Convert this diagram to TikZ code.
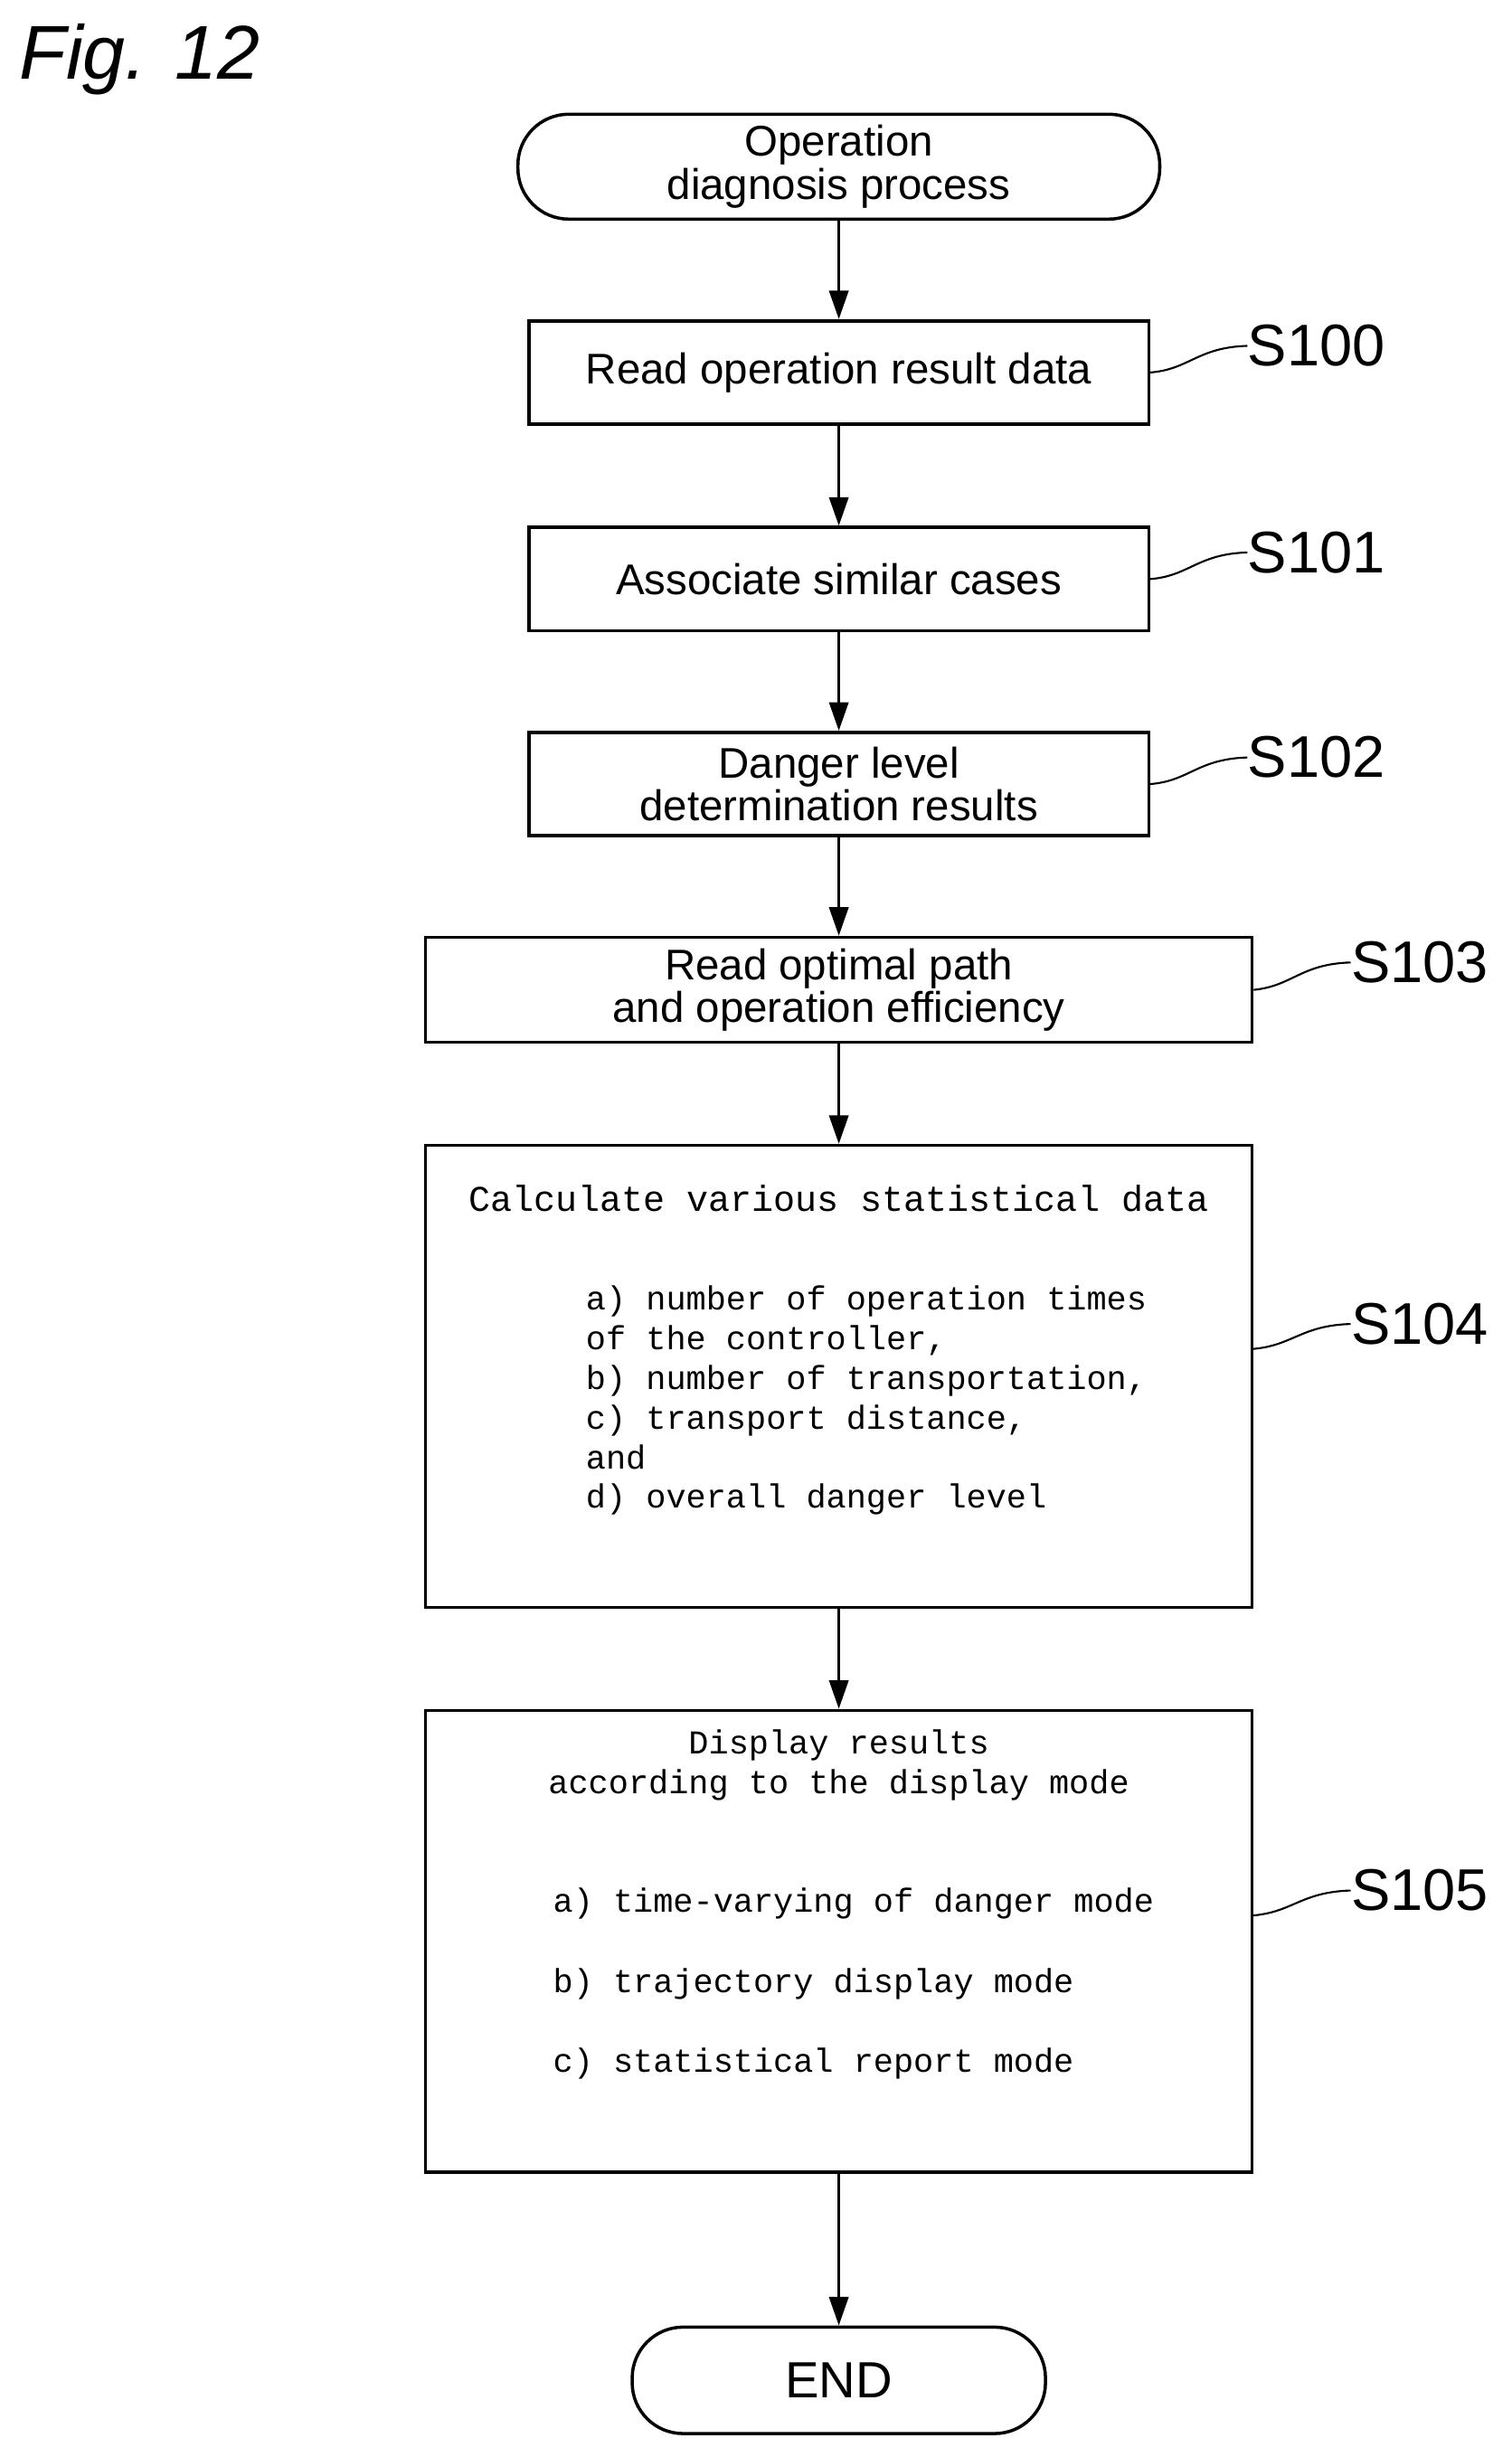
\documentclass[tikz,border=0pt]{standalone}
\usepackage{fontspec}
\usetikzlibrary{arrows.meta}
\setmainfont{Liberation Sans}
\setmonofont{Liberation Mono}
\begin{document}
\begin{tikzpicture}[x=0.01731cm,y=-0.01731cm,
  box/.style={draw,line width=1pt,inner sep=0pt,font=\fontsize{13.5}{13.5}\selectfont,align=center},
  arr/.style={line width=1pt,-{Stealth[length=9pt,width=6pt,inset=0pt]}},
  lab/.style={font=\fontsize{18.5}{20}\selectfont,anchor=west,inner sep=0pt},
  lk/.style={line width=0.6pt},
  mono/.style={font=\ttfamily\fontsize{10.5}{12.5}\selectfont,align=left,inner sep=0pt}]
\useasboundingbox (0,0) rectangle (966,1570);
\node[anchor=west,inner sep=0pt,font=\itshape\fontsize{24}{26}\selectfont] (fig) at (12,38) {Fig. 12};
\node[box,rounded corners=16pt,minimum width=410*0.4925pt,minimum height=67*0.4925pt] (start) at (536,106.5) {Operation\\diagnosis process};
\node[box,minimum width=396*0.4925pt,minimum height=66*0.4925pt] (s100) at (536,238) {Read operation result data};
\node[box,minimum width=396*0.4925pt,minimum height=66*0.4925pt] (s101) at (536,370) {Associate similar cases};
\node[box,minimum width=396*0.4925pt,minimum height=66*0.4925pt] (s102) at (536,501) {Danger level\\determination results};
\node[box,minimum width=528*0.4925pt,minimum height=67*0.4925pt] (s103) at (536,632.5) {Read optimal path\\and operation efficiency};
\node[box,minimum width=528*0.4925pt,minimum height=295*0.4925pt] (s104) at (536,879.5) {};
\node[box,minimum width=528*0.4925pt,minimum height=295*0.4925pt] (s105) at (536,1240.5) {};
\node[box,rounded corners=16pt,font=\fontsize{16}{17}\selectfont,minimum width=264*0.4925pt,minimum height=68*0.4925pt] (end) at (536,1521) {END};
\node[mono,font=\ttfamily\fontsize{11.4}{13}\selectfont,anchor=north] (t104) at (536,757) {Calculate various statistical data};
\node[mono,anchor=north west] (l104) at (374,821) {a) number of operation times\\of the controller,\\b) number of transportation,\\c) transport distance,\\and\\d) overall danger level};
\node[mono,align=center,anchor=north] (t105) at (536,1105) {Display results\\according to the display mode};
\node[mono,anchor=north west,font=\ttfamily\fontsize{10.5}{25.2}\selectfont] (l105) at (353,1206) {a) time-varying of danger mode\\b) trajectory display mode\\c) statistical report mode};
\draw[arr] (start) -- (s100);
\draw[arr] (s100) -- (s101);
\draw[arr] (s101) -- (s102);
\draw[arr] (s102) -- (s103);
\draw[arr] (s103) -- (s104);
\draw[arr] (s104) -- (s105);
\draw[arr] (s105) -- (end);
\node[lab] (n100) at (797,221) {S100};
\node[lab] (n101) at (797,353) {S101};
\node[lab] (n102) at (797,484) {S102};
\node[lab] (n103) at (863,615) {S103};
\node[lab] (n104) at (863,846) {S104};
\node[lab] (n105) at (863,1208) {S105};
\draw[lk] (s100.east) .. controls (760,236) and (765,222) .. (n100.west);
\draw[lk] (s101.east) .. controls (760,368) and (765,354) .. (n101.west);
\draw[lk] (s102.east) .. controls (760,499) and (765,485) .. (n102.west);
\draw[lk] (s103.east) .. controls (826,630) and (831,616) .. (n103.west);
\draw[lk] (800,862) .. controls (826,860) and (831,847) .. (n104.west);
\draw[lk] (800,1224) .. controls (826,1222) and (831,1209) .. (n105.west);
\end{tikzpicture}
\end{document}
